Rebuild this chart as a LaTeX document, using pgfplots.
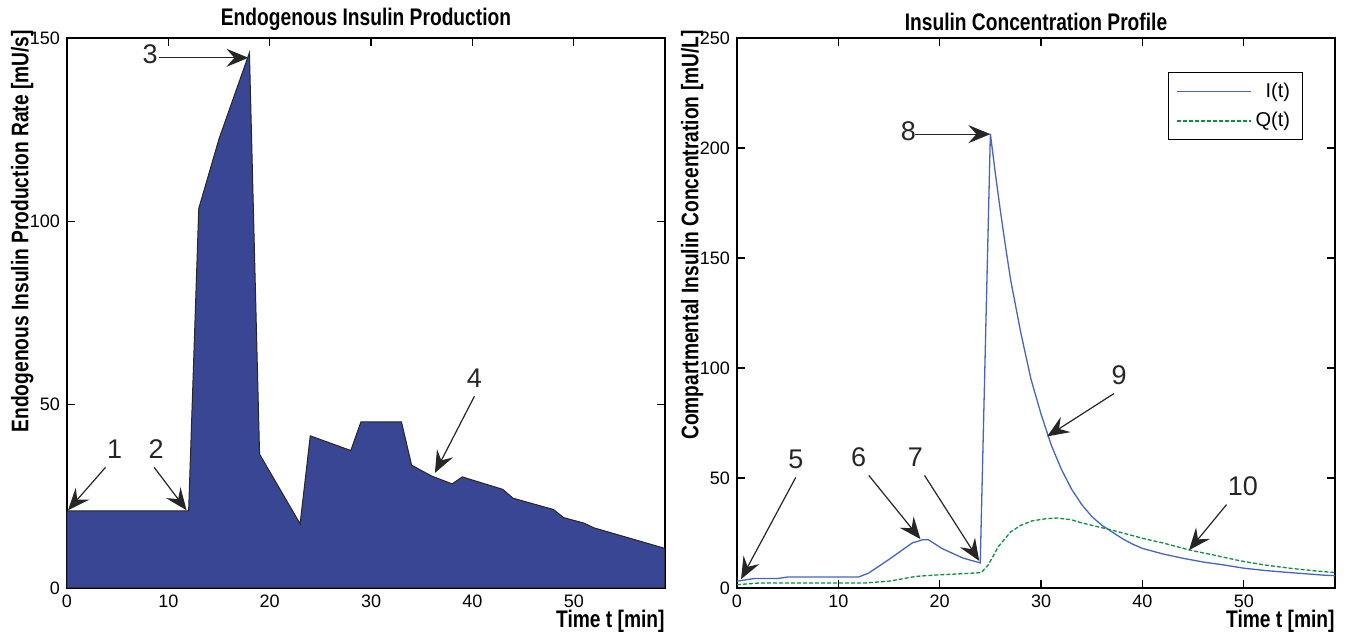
\documentclass[border=0pt]{standalone}
\usepackage{pgfplots}
\pgfplotsset{compat=1.18}
\usepackage{fontspec}
\setmainfont{Liberation Sans}
\newfontfamily\condfont[FakeStretch=0.8]{Liberation Sans}
\usetikzlibrary{arrows.meta}
\definecolor{areablue}{RGB}{56,70,148}
\definecolor{iblue}{RGB}{72,100,190}
\definecolor{qgreen}{RGB}{10,145,65}
\tikzset{ann/.style={draw=black!85, line width=0.6pt, -{Stealth[length=11pt,width=9pt,inset=4pt]}},
  num/.style={font=\fontsize{13.5}{14}\selectfont, text=black!85, inner sep=0pt}}
\pgfplotsset{
  common/.style={
    scale only axis, width=299pt, height=275pt,
    xmin=0, xmax=59, xtick={0,10,...,50},
    tick align=inside, tick pos=both, major tick length=4pt,
    axis line style={line width=0.6pt},
    every tick/.style={line width=0.6pt, black},
    tick label style={font=\fontsize{9}{10}\selectfont},
    /pgf/number format/assume math mode=true,
    title style={at={(0.5,1)}, anchor=south, yshift=-2.5pt, inner sep=0pt, font=\condfont\bfseries\fontsize{12}{13}\selectfont},
    xlabel style={at={(axis description cs:1,0)}, anchor=north east, yshift=-11pt, inner sep=0pt, font=\condfont\bfseries\fontsize{12}{13}\selectfont},
    ylabel style={at={(axis description cs:-0.075,1.015)}, anchor=east, rotate=0, inner sep=0pt, font=\condfont\bfseries\fontsize{12}{13}\selectfont},
  }
}
\begin{document}
\begin{tikzpicture}
\begin{axis}[common,
  at={(0pt,0pt)}, anchor=south west,
  ymin=0, ymax=150, ytick={0,50,100,150},
  title={Endogenous Insulin Production},
  xlabel={Time t [min]},
  ylabel={Endogenous Insulin Production Rate [mU/s]},
]
\addplot[fill=areablue, draw=black!85, line width=0.5pt] coordinates {
(0,21) (12,21) (13,103.5) (15,122.5) (18,146) (19,36.5) (23,17.5) (24,41.5) (26,39.5) (28,37.5) (29,45.3) (33,45.3) (34,33.5) (36,30.5) (38,28.4) (39,30.3) (43,26.9) (44,24.5) (48,21.4) (49,19.2) (51,17.7) (52,16.4) (59,10.8)
} \closedcycle;
\node[num] at (axis cs:4.7,37.9) {1};
\draw[ann] (axis cs:3.8,32.9) -- (axis cs:0.1,21.2);
\node[num] at (axis cs:8.8,37.9) {2};
\draw[ann] (axis cs:8.6,32.9) -- (axis cs:11.8,21.2);
\node[num] at (axis cs:8.2,145.5) {3};
\draw[ann] (axis cs:9.1,144.6) -- (axis cs:17.9,144.6);
\node[num] at (axis cs:40.2,57.3) {4};
\draw[ann] (axis cs:40.2,52.3) -- (axis cs:36.3,31.4);
\end{axis}

\begin{axis}[common,
  at={(335pt,0pt)}, anchor=south west,
  ymin=0, ymax=250, ytick={0,50,...,250},
  title={Insulin Concentration Profile},
  xlabel={Time t [min]},
  ylabel={Compartmental Insulin Concentration [mU/L]},
  legend style={at={(0.946,0.938)}, anchor=north east, draw=black, line width=0.6pt,
    font=\fontsize{10}{11}\selectfont, inner xsep=4pt, inner ysep=3pt, row sep=2pt,
    cells={anchor=east}},
  legend image code/.code={\draw[#1, line width=0.6pt] (0pt,0pt) -- (37pt,0pt);},
]
\addplot[color=iblue, draw=iblue, line width=0.65pt] coordinates {
(0,3.1)(1.7,4.3)(4,4.3)(5,5)(12,5)(13,6.8)(15,13)(17.3,20.5)(18.3,21.9)(18.9,21.9)(20.2,18)(22.3,13.6)(24,11.4)(25,206.5)(25.5,188)(26,171)(26.5,155)(27,140)(28,116)(29,95)(30,79)(31,65)(32,54)(33,45)(34,38)(35,32.5)(36,28.5)(37,25.5)(38,22.5)(39,20)(40,18)(42,15.5)(44,13.5)(46,11.8)(48,10.5)(50,9)(52,8)(54,7.2)(56,6.5)(58,5.8)(59,5.6)
};
\addlegendentry{I(t)}
\addplot[color=qgreen, draw=qgreen, line width=0.65pt, dash pattern=on 2pt off 1pt] coordinates {
(0,1.5)(2.3,2.3)(12.7,2.3)(15,3.1)(17.7,5.3)(20,6)(22.3,6.5)(24.1,7)(24.8,10.6)(25.8,18.9)(27,25.5)(28,28.5)(29.1,30.5)(30.5,31.5)(31.6,31.8)(33,31)(34,29.6)(37,26.3)(40.1,22.5)(42,20.5)(44.7,17.2)(47,15)(49.7,12.3)(52,10.5)(54.7,8.9)(57,7.8)(59,7)
};
\addlegendentry{Q(t)}
\node[num] at (axis cs:5.8,58.6) {5};
\draw[ann] (axis cs:5.8,50.3) -- (axis cs:0.4,4);
\node[num] at (axis cs:12,59.4) {6};
\draw[ann] (axis cs:13,51.2) -- (axis cs:18.1,22.2);
\node[num] at (axis cs:17.6,59.4) {7};
\draw[ann] (axis cs:18.5,51.2) -- (axis cs:23.9,12.3);
\node[num] at (axis cs:16.9,207.6) {8};
\draw[ann] (axis cs:17.6,206.3) -- (axis cs:25,206.3);
\node[num] at (axis cs:37.7,96.7) {9};
\draw[ann] (axis cs:37.2,88.4) -- (axis cs:30.6,68.9);
\node[num] at (axis cs:49.9,46.2) {10};
\draw[ann] (axis cs:48.3,37.9) -- (axis cs:44.6,17.2);
\end{axis}
\pgfresetboundingbox
\path[use as bounding box] (-33.5pt,-24.5pt) rectangle (639.5pt,294pt);
\end{tikzpicture}
\end{document}
